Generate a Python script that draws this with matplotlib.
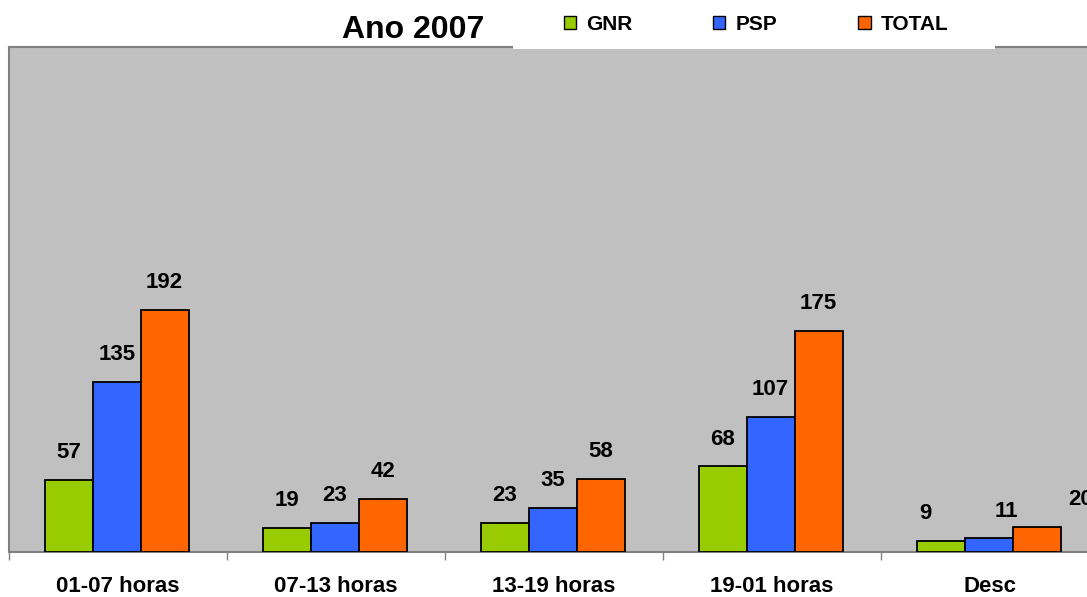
import numpy as np
import matplotlib
matplotlib.use('Agg')
import matplotlib.pyplot as plt
from matplotlib.patches import Patch, Rectangle

# data
categories = ['01-07 horas', '07-13 horas', '13-19 horas', '19-01 horas', 'Desc']
gnr = [57, 19, 23, 68, 9]
psp = [135, 23, 35, 107, 11]
total = [192, 42, 58, 175, 20]
series_names = ['GNR', 'PSP', 'TOTAL']
colors = ['#99CC00', '#3366FF', '#FF6600']

plt.rcParams['font.family'] = ['Liberation Sans', 'DejaVu Sans']
plt.rcParams['font.weight'] = 'bold'

W, H = 1087, 597
fig = plt.figure(figsize=(W / 100, H / 100), dpi=100)
fig.patch.set_facecolor('white')

# axes in pixel coordinates: left 9, top 47, bottom 552, right past the image
ax = fig.add_axes([9 / W, (H - 552) / H, 1090 / W, (552 - 47) / H])
ax.set_facecolor('#C0C0C0')

x = np.arange(len(categories))
width = 0.22
offsets = [-width, 0, width]
# manual nudges (points) for the crowded Desc labels
nudges = {(4, 0): -11, (4, 1): 13, (4, 2): 32}

for i, (vals, col) in enumerate(zip([gnr, psp, total], colors)):
    bars = ax.bar(x + offsets[i] - 0.006, vals, width, color=col, edgecolor='black',
                  linewidth=1.3, zorder=3)
    for j, b in enumerate(bars):
        dx = nudges.get((j, i), 0)
        ax.annotate(str(vals[j]), (b.get_x() + b.get_width() / 2, b.get_height()),
                    xytext=(dx, 19.5), textcoords='offset points',
                    ha='center', va='center', fontsize=16, fontweight='bold',
                    annotation_clip=False)

ax.set_xlim(-0.5, 4.5)
ax.set_ylim(0, 400)
ax.set_yticks([])

ax.set_xticks(np.arange(len(categories) + 1) - 0.5)
ax.set_xticklabels([])
ax.tick_params(axis='x', which='major', length=6, color='#808080', width=1)
ax.set_xticks(x, minor=True)
ax.set_xticklabels(categories, minor=True, fontsize=16, fontweight='bold')
ax.tick_params(axis='x', which='minor', length=0, pad=17)

for s in ax.spines.values():
    s.set_color('#808080')
    s.set_linewidth(1.5)

# white block that interrupts the top border behind the legend
fig.patches.append(Rectangle((513 / W, (H - 49) / H), (995 - 513) / W, 49 / H,
                             transform=fig.transFigure, facecolor='white',
                             edgecolor='none', zorder=1))

fig.text(413 / W, (H - 30) / H, 'Ano 2007', ha='center', va='center',
         fontsize=23, fontweight='bold')

handles = [Patch(facecolor=c, edgecolor='black', linewidth=1.0) for c in colors]
fig.legend(handles, series_names, ncol=3, loc='center',
           bbox_to_anchor=(756 / W, (H - 24) / H), frameon=False,
           prop={'weight': 'bold', 'size': 15},
           handlelength=0.58, handleheight=0.58, handletextpad=0.48,
           columnspacing=3.9)

fig.savefig('out.png', dpi=100)
